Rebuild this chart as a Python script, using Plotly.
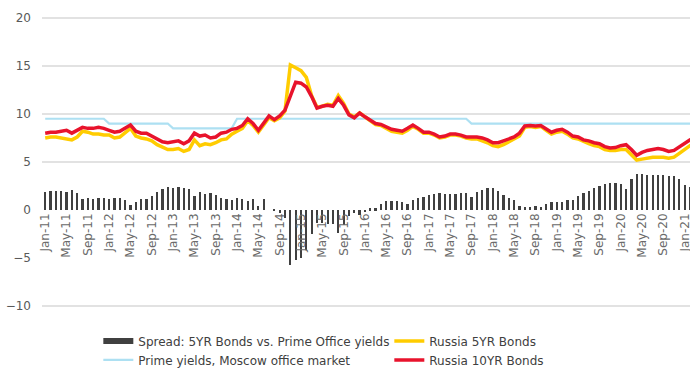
import plotly.graph_objects as go

# monthly observations, Jan-2011 .. Mar-2021
month_names = ["Jan", "Feb", "Mar", "Apr", "May", "Jun",
               "Jul", "Aug", "Sep", "Oct", "Nov", "Dec"]
years = list(range(2011, 2022))
months = [f"{m}-{str(y)[2:]}" for y in years for m in month_names][:123]

russia_10yr = [
    8.0, 8.1, 8.1, 8.2, 8.3, 8.0, 8.3, 8.6, 8.5, 8.5, 8.6, 8.5,
    8.3, 8.1, 8.2, 8.5, 8.85, 8.2, 8.0, 8.0, 7.7, 7.3, 7.1, 7.0,
    7.1, 7.2, 6.9, 7.2, 8.0, 7.7, 7.8, 7.5, 7.6, 8.0, 8.1, 8.4,
    8.5, 8.8, 9.5, 9.0, 8.3, 9.0, 9.8, 9.4, 9.8, 10.4, 11.8, 13.3,
    13.2, 12.8, 11.8, 10.6, 10.8, 10.9, 10.8, 11.6, 10.9, 9.9, 9.6, 10.1,
    9.7, 9.3, 9.0, 8.9, 8.6, 8.4, 8.3, 8.2, 8.5, 8.85, 8.5, 8.1,
    8.1, 7.9, 7.6, 7.7, 7.9, 7.9, 7.8, 7.6, 7.6, 7.6, 7.5, 7.3,
    7.0, 7.0, 7.2, 7.4, 7.6, 8.0, 8.75, 8.8, 8.75, 8.8, 8.5, 8.1,
    8.3, 8.4, 8.1, 7.7, 7.6, 7.3, 7.2, 7.0, 6.9, 6.6, 6.45, 6.5,
    6.7, 6.8, 6.3, 5.7, 6.0, 6.2, 6.3, 6.4, 6.3, 6.1, 6.2, 6.6,
    7.0, 7.3, 7.5,
]

russia_5yr = [
    7.5, 7.6, 7.6, 7.5, 7.4, 7.3, 7.6, 8.2, 8.1, 7.9, 7.9, 7.8,
    7.8, 7.5, 7.6, 8.0, 8.5, 7.7, 7.5, 7.4, 7.2, 6.8, 6.5, 6.3,
    6.3, 6.4, 6.1, 6.3, 7.3, 6.7, 6.9, 6.8, 7.0, 7.3, 7.4, 7.9,
    8.2, 8.5, 9.3, 8.8, 8.1, 8.9, 9.6, 9.3, 9.6, 10.3, 15.1, 14.8,
    14.5, 13.8, 11.9, 10.7, 10.8, 11.0, 10.9, 11.9, 11.1, 10.0, 9.7, 10.1,
    9.7, 9.2, 8.9, 8.8, 8.5, 8.2, 8.1, 8.0, 8.3, 8.7, 8.4, 8.0,
    8.0, 7.8, 7.5, 7.6, 7.8, 7.8, 7.7, 7.5, 7.4, 7.4, 7.2, 7.0,
    6.7, 6.6, 6.8, 7.1, 7.3, 7.7, 8.6, 8.7, 8.6, 8.7, 8.3, 7.9,
    8.1, 8.2, 7.9, 7.5, 7.4, 7.1, 6.9, 6.7, 6.6, 6.3, 6.2, 6.2,
    6.3, 6.3, 5.8, 5.2, 5.3, 5.4, 5.5, 5.5, 5.5, 5.4, 5.5, 5.9,
    6.3, 6.8, 7.1,
]

prime_yield = [
    9.5, 9.5, 9.5, 9.5, 9.5, 9.5, 9.5, 9.5, 9.5, 9.5, 9.5, 9.5,
    9.0, 9.0, 9.0, 9.0, 9.0, 9.0, 9.0, 9.0, 9.0, 9.0, 9.0, 9.0,
    8.5, 8.5, 8.5, 8.5, 8.5, 8.5, 8.5, 8.5, 8.5, 8.5, 8.5, 8.5,
    9.5, 9.5, 9.5, 9.5, 9.5, 9.5, 9.5, 9.5, 9.5, 9.5, 9.5, 9.5,
    9.5, 9.5, 9.5, 9.5, 9.5, 9.5, 9.5, 9.5, 9.5, 9.5, 9.5, 9.5,
    9.5, 9.5, 9.5, 9.5, 9.5, 9.5, 9.5, 9.5, 9.5, 9.5, 9.5, 9.5,
    9.5, 9.5, 9.5, 9.5, 9.5, 9.5, 9.5, 9.5, 9.0, 9.0, 9.0, 9.0,
    9.0, 9.0, 9.0, 9.0, 9.0, 9.0, 9.0, 9.0, 9.0, 9.0, 9.0, 9.0,
    9.0, 9.0, 9.0, 9.0, 9.0, 9.0, 9.0, 9.0, 9.0, 9.0, 9.0, 9.0,
    9.0, 9.0, 9.0, 9.0, 9.0, 9.0, 9.0, 9.0, 9.0, 9.0, 9.0, 9.0,
    9.0, 9.0, 9.0,
]

spread = [
    1.9, 2.0, 2.0, 2.0, 1.9, 2.1, 1.8, 1.2, 1.3, 1.2, 1.3, 1.3,
    1.2, 1.3, 1.3, 1.0, 0.5, 0.8, 1.1, 1.2, 1.5, 1.9, 2.2, 2.4,
    2.3, 2.4, 2.3, 2.2, 1.5, 1.9, 1.7, 1.8, 1.6, 1.3, 1.2, 1.0,
    1.3, 1.2, 0.9, 1.1, 0.4, 1.1, 0.0, 0.1, -0.3, -0.8, -5.7, -5.2,
    -5.0, -4.2, -2.5, -1.3, -1.3, -1.5, -1.4, -2.4, -1.6, -0.6, -0.3, -0.5,
    -0.2, 0.2, 0.2, 0.6, 0.9, 0.9, 0.9, 0.8, 0.6, 1.0, 1.3, 1.4,
    1.6, 1.7, 1.8, 1.7, 1.7, 1.7, 1.8, 1.8, 1.4, 1.9, 2.1, 2.3,
    2.3, 2.0, 1.6, 1.3, 1.0, 0.4, 0.3, 0.3, 0.4, 0.3, 0.6, 0.8,
    0.8, 0.8, 1.0, 1.0, 1.5, 1.8, 2.0, 2.3, 2.5, 2.7, 2.8, 2.8,
    2.7, 2.2, 3.2, 3.8, 3.8, 3.7, 3.7, 3.6, 3.6, 3.5, 3.5, 3.2,
    2.6, 2.4, 2.2,
]

y_ticks = [-10, -5, 0, 5, 10, 15, 20]
grid_ticks = [-10, 5, 10, 15, 20]
x_ticks = months[::4]

FONT = "DejaVu Sans"
GREY = "#404040"

fig = go.Figure()
# invisible trace to carry the grid axis (drawn first, under everything)
fig.add_scatter(x=[months[0]], y=[0], yaxis="y2", mode="markers",
                marker=dict(opacity=0), showlegend=False, hoverinfo="skip")
fig.add_bar(x=months, y=spread, marker_color=GREY, marker_line_width=0,
            width=0.42, showlegend=False, name="Spread: 5YR Bonds vs. Prime Office yields")
# legend swatch for the bars (wide dark bar like the original)
fig.add_scatter(x=[None], y=[None], mode="lines", line=dict(color=GREY, width=6),
                name="Spread: 5YR Bonds vs. Prime Office yields", legendrank=1)
fig.add_scatter(x=months, y=prime_yield, mode="lines",
                line=dict(color="#ade0f2", width=2.2),
                name="Prime yields, Moscow office market", legendrank=3)
fig.add_scatter(x=months, y=russia_5yr, mode="lines",
                line=dict(color="#ffcc00", width=3.5),
                name="Russia 5YR Bonds", legendrank=2)
fig.add_scatter(x=months, y=russia_10yr, mode="lines",
                line=dict(color="#e8132c", width=3.5),
                name="Russia 10YR Bonds", legendrank=4)

yr = [-10.5, 20.5]
fig.update_layout(
    width=690, height=373,
    margin=dict(l=42, r=0, t=13, b=62, autoexpand=False),
    paper_bgcolor="white", plot_bgcolor="white",
    font=dict(family=FONT, color="#595959"),
    bargap=0,
    xaxis=dict(type="category", range=[-0.6, 121.0], automargin=False,
               tickvals=x_ticks, ticktext=x_ticks, tickangle=-90,
               tickfont=dict(size=12, color="#6a6a6a"),
               showgrid=False, zeroline=False, showline=False, ticks="",
               anchor="free", position=(0 - yr[0]) / (yr[1] - yr[0])),
    yaxis=dict(range=yr, tickvals=y_ticks, showgrid=False, zeroline=False,
               automargin=False,
               tickfont=dict(size=12, color="#595959"), ticklabelstandoff=10),
    yaxis2=dict(range=yr, tickvals=grid_ticks, overlaying="y", showgrid=True,
                gridcolor="#e2e2e2", gridwidth=1.6, showticklabels=False,
                zeroline=False, automargin=False),
    legend=dict(orientation="h", xref="container", yref="container",
                x=0.1425, xanchor="left", y=0.125, yanchor="top",
                font=dict(size=12, color="#404040"), entrywidth=246,
                tracegroupgap=0, itemwidth=30, bgcolor="rgba(0,0,0,0)"),
)

# page body margin would otherwise offset the figure inside the window
fig.write_html("out.html", config={"displayModeBar": False},
               post_script="document.body.style.margin='0';")
